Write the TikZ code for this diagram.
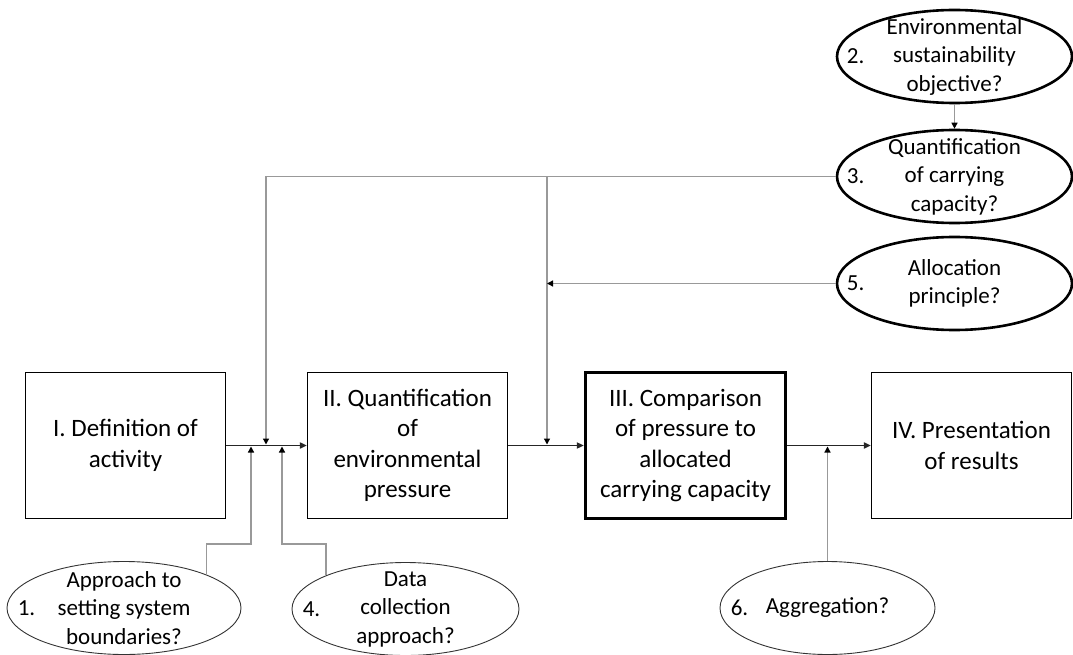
\documentclass[tikz,border=0pt]{standalone}
\usepackage{fontspec}
\setmainfont{Carlito}
\usetikzlibrary{arrows.meta,shapes.geometric}

\begin{document}
\begin{tikzpicture}[
  x=1pt, y=-1pt,
  >={Triangle[length=7pt,width=6pt]},
  stage/.style={
    draw,
    rectangle,
    align=center,
    minimum width=200pt,
    minimum height=146pt,
    line width=1.2pt,
    font=\fontsize{25}{30.5}\selectfont
  },
  keystage/.style={stage, line width=3.3pt},
  question/.style={
    draw,
    ellipse,
    align=center,
    inner xsep=0pt,
    inner ysep=-16pt,
    minimum width=235pt,
    minimum height=93pt,
    line width=2.6pt,
    font=\fontsize{23}{28.5}\selectfont
  },
  choice/.style={question, line width=0.9pt, draw=black!80},
  num/.style={anchor=west, inner sep=0pt, xshift=11pt, font=\fontsize{23}{28.5}\selectfont},
  flow/.style={->, line width=1.8pt, draw=black!85},
  feed/.style={-{Triangle[length=6pt,width=6pt,black]}, line width=1.3pt, draw=black!40}
]
\useasboundingbox (0,0) rectangle (1073,655);

% the four stages
\node[stage] (act) at (125.5,445.5) {I. Definition of\\activity};
\node[stage] (quant) at (407.5,445.5) {II. Quantification\\of\\environmental\\pressure};
\node[keystage] (comp) at (685.5,445.5) {III. Comparison\\of pressure to\\allocated\\carrying capacity};
\node[stage] (pres) at (971.5,445.5) {IV. Presentation\\of results};

% methodological questions
\node[question] (sustain) at (954.5,56.5) {Environmental\\sustainability\\objective?};
\node[question] (carry) at (954.5,176.5) {Quantification\\of carrying\\capacity?};
\node[question] (alloc) at (954.5,283.5) {Allocation\\principle?};
\node[choice, minimum width=234pt] (bound) at (124,608) {Approach to\\setting system\\boundaries?};
\node[choice, minimum width=227pt] (data) at (405.5,609) {Data\\collection\\approach?};
\node[choice, minimum width=215pt] (aggr) at (827.5,608) {Aggregation?};

\node[num] (n2) at (sustain.west) {2.};
\node[num] (n3) at (carry.west) {3.};
\node[num] (n5) at (alloc.west) {5.};
\node[num] (n1) at (bound.west) {1.};
\node[num] (n4) at (data.west) {4.};
\node[num] (n6) at (aggr.west) {6.};

\coordinate (in1) at (266,444.5);
\coordinate (in2) at (547,444.5);
\coordinate (up1) at (251,446.5);
\coordinate (up4) at (282,446.5);
\coordinate (bend1) at (251,544);
\coordinate (bend4) at (282,544);

\draw[flow] (act) -- (quant);
\draw[flow] (quant) -- (comp);
\draw[flow] (comp) -- (pres);

\draw[feed] (sustain) -- (carry);
\draw[feed] (carry.west) -| (in1);
\draw[feed] (carry.west -| in2) -- (in2);
\draw[feed] (alloc.west) -- (alloc.west -| in2);
\draw[feed] (bound.22) |- (bend1) -- (up1);
\draw[feed] (data.157) |- (bend4) -- (up4);
\draw[feed] (aggr.north) -- (aggr.north |- up1);

\end{tikzpicture}
\end{document}
